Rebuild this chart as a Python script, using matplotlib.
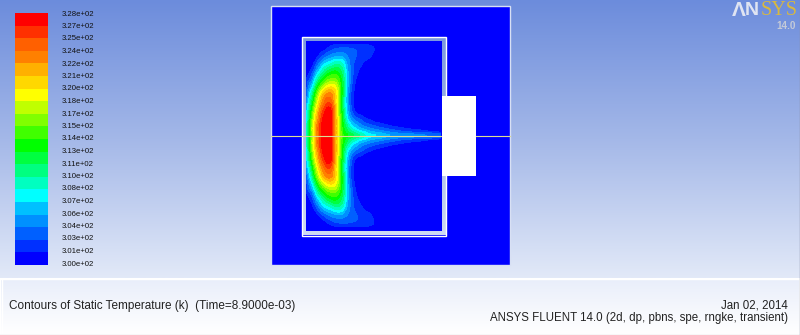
import numpy as np
import matplotlib
matplotlib.use("Agg")
import matplotlib.pyplot as plt
import matplotlib.tri as mtri
from matplotlib.colors import ListedColormap, BoundaryNorm, LinearSegmentedColormap
from matplotlib.patches import PathPatch, Rectangle
from matplotlib.path import Path

plt.rcParams['font.family'] = ['Liberation Sans', 'DejaVu Sans']

# colour-scale tick labels (bottom to top)
tick_labels = ["3.00e+02", "3.01e+02", "3.03e+02", "3.04e+02", "3.06e+02", "3.07e+02", "3.08e+02",
               "3.10e+02", "3.11e+02", "3.13e+02", "3.14e+02", "3.15e+02", "3.17e+02", "3.18e+02",
               "3.20e+02", "3.21e+02", "3.22e+02", "3.24e+02", "3.25e+02", "3.27e+02", "3.28e+02"]
band_colors = ["#0000ff", "#0030ff", "#0060ff", "#0090ff", "#00c0ff", "#00ffff", "#00ffc0", "#00ff80",
               "#00ff40", "#00ff00", "#40ff00", "#80ff00", "#c0ff00", "#ffff00", "#ffd800", "#ffb000",
               "#ff8000", "#ff6000", "#ff3000", "#ff0000"]

# stations (image pixels) and the contour band at each (0-20)
x_stations = [306, 312, 318, 324, 330, 336, 342, 348, 354, 360, 368, 376, 390, 410, 441]
y_stations = [135.5, 131, 127, 119, 111, 103, 95, 87, 79, 71, 63, 55, 47, 41]
bands = [
    [5.0, 12.0, 17.0, 20.0, 20.0, 15.0, 10.5, 9.0, 8.0, 7.0, 5.5, 5.0, 4.0, 3.5, 2.5],
    [5.0, 12.0, 17.0, 20.0, 20.0, 15.0, 10.3, 8.0, 6.5, 5.2, 4.2, 3.5, 2.6, 1.6, 0.5],
    [5.0, 12.0, 17.0, 20.0, 20.0, 15.0, 10.0, 7.0, 5.0, 3.8, 2.8, 2.2, 1.3, 0.6, 0.0],
    [4.5, 11.0, 16.0, 19.5, 20.0, 15.0, 9.5, 5.0, 2.8, 2.0, 1.0, 0.4, 0.0, 0.0, 0.0],
    [4.0, 10.0, 15.0, 18.5, 19.5, 14.5, 9.0, 4.0, 1.2, 0.3, 0.0, 0.0, 0.0, 0.0, 0.0],
    [3.0, 8.5, 13.5, 17.0, 18.0, 14.0, 8.5, 3.5, 0.8, 0.0, 0.0, 0.0, 0.0, 0.0, 0.0],
    [2.0, 7.0, 12.0, 15.5, 16.5, 14.0, 9.0, 3.5, 0.9, 0.0, 0.0, 0.0, 0.0, 0.0, 0.0],
    [1.3, 5.0, 9.5, 12.5, 14.0, 13.0, 9.0, 4.0, 1.1, 0.2, 0.0, 0.0, 0.0, 0.0, 0.0],
    [0.8, 3.0, 7.0, 9.5, 11.0, 11.0, 8.5, 4.2, 1.5, 0.4, 0.0, 0.0, 0.0, 0.0, 0.0],
    [0.2, 1.5, 4.5, 7.0, 8.5, 9.0, 7.5, 4.0, 1.8, 0.8, 0.1, 0.0, 0.0, 0.0, 0.0],
    [0.0, 0.5, 2.5, 4.5, 5.5, 6.5, 6.0, 3.5, 2.0, 1.3, 0.5, 0.0, 0.0, 0.0, 0.0],
    [0.0, 0.0, 0.8, 2.0, 3.0, 3.5, 3.5, 2.8, 2.2, 1.8, 1.4, 0.6, 0.0, 0.0, 0.0],
    [0.0, 0.0, 0.0, 0.3, 1.1, 1.6, 1.8, 1.8, 1.7, 1.6, 1.4, 0.8, 0.0, 0.0, 0.0],
    [0.0, 0.0, 0.0, 0.0, 0.0, 0.0, 0.0, 0.0, 0.0, 0.0, 0.0, 0.0, 0.0, 0.0, 0.0],
]

title_left = "Contours of Static Temperature (k)  (Time=8.9000e-03)"
date_text = "Jan 02, 2014"
solver_text = "ANSYS FLUENT 14.0 (2d, dp, pbns, spe, rngke, transient)"

fig = plt.figure(figsize=(8.0, 3.35), dpi=100)
ax = fig.add_axes([0, 0, 1, 1])
ax.set_xlim(0, 800)
ax.set_ylim(335, 0)
ax.axis("off")

# window background gradients
bg_cmap = LinearSegmentedColormap.from_list("bg", ["#6c8cdc", "#a4b8e8", "#e2e9f8"])
ax.imshow(np.linspace(0, 1, 256)[:, None], extent=(0, 800, 278, 0), cmap=bg_cmap,
          aspect="auto", zorder=0)
panel_cmap = LinearSegmentedColormap.from_list("panel", ["#e9eefa", "#ffffff"])
ax.imshow(np.linspace(0, 1, 64)[:, None], extent=(1, 799, 334, 279), cmap=panel_cmap,
          aspect="auto", zorder=0)
ax.set_xlim(0, 800)
ax.set_ylim(335, 0)
ax.plot([1, 799], [279, 279], color="white", lw=1, zorder=1)
ax.plot([1.5, 1.5], [279, 334], color="white", lw=1, zorder=1)
ax.plot([0, 800], [334.5, 334.5], color="#d8d8d8", lw=1, zorder=1)
ax.plot([799.5, 799.5], [0, 335], color="#8890a8", lw=1, zorder=1)

# domain: blue fill with the wall gap left open
def rect_verts(x0, y0, x1, y1):
    return [(x0, y0), (x1, y0), (x1, y1), (x0, y1), (x0, y0)]
codes = [Path.MOVETO, Path.LINETO, Path.LINETO, Path.LINETO, Path.CLOSEPOLY]
domain = Path(rect_verts(271, 6, 510, 265) + rect_verts(302, 37, 446, 235)[::-1], codes * 2)
ax.add_patch(PathPatch(domain, fc="#0000ff", ec="none", zorder=2))
ax.add_patch(Rectangle((306, 41), 135.5, 190, fc="#0000ff", ec="none", zorder=2))
ax.add_patch(Rectangle((271, 6), 239, 259, fc="none", ec="#d8e0f4", lw=1, zorder=5))
ax.add_patch(Rectangle((301.5, 36.5), 144.5, 199, fc="none", ec="white", lw=1, zorder=5))
ax.add_patch(Rectangle((441.5, 96), 34.5, 80, fc="white", ec="none", zorder=6))

# temperature field: mirror the read half about the centreline
ys = np.array(y_stations)
xs = np.array(x_stations, dtype=float)
half = 300 + 1.4 * np.array(bands)
y_all = np.concatenate([ys, 2 * 135.5 - ys[1:]])
t_all = np.vstack([half, half[1:]])
order = np.argsort(y_all)
y_all, t_all = y_all[order], t_all[order]
X, Y = np.meshgrid(xs, y_all)
tri = mtri.Triangulation(X.ravel(), Y.ravel())
interp = mtri.CubicTriInterpolator(tri, t_all.ravel(), kind="geom")
xf = np.linspace(306, 441, 271)
yf = np.linspace(41, 230, 379)
XF, YF = np.meshgrid(xf, yf)
TF = np.ma.filled(interp(XF, YF), 300.0)
levels = 300 + 1.4 * np.arange(21)
cmap = ListedColormap(band_colors)
norm = BoundaryNorm(levels, cmap.N)
ax.contourf(XF, YF, np.clip(TF, 300, 328), levels=levels, cmap=cmap, norm=norm, zorder=3,
            antialiased=False)

# centreline
ax.plot([271, 441], [135.5, 135.5], color="#dcdc96", lw=0.8, zorder=7)
ax.plot([476, 510], [135.5, 135.5], color="#dcdc96", lw=0.8, zorder=7)

# colour scale
bar_edges = np.linspace(265, 13, 21)
ax.pcolormesh([15, 48], bar_edges, np.arange(20)[:, None], cmap=cmap,
              norm=BoundaryNorm(np.arange(21), cmap.N), zorder=3)
label_y = np.linspace(264, 14, 21)
for y, lab in zip(label_y, tick_labels):
    ax.text(62, y, lab, fontsize=5.6, color="#111111", va="center", ha="left", zorder=8)

# footer
ax.text(9, 305.5, title_left, fontsize=8.45, color="#222222", va="center", ha="left", zorder=8)
ax.text(788, 305, date_text, fontsize=8.3, color="#222222", va="center", ha="right", zorder=8)
ax.text(788, 317.5, solver_text, fontsize=8.3, color="#222222", va="center", ha="right", zorder=8)

# logo
ax.text(732, 10.5, "\u039b", fontsize=15, fontweight="bold", color="#dfe4f2", va="center", ha="left", zorder=8)
ax.text(745, 10.5, "N", fontsize=14, fontweight="bold", color="#dfe4f2", va="center", ha="left", zorder=8)
ax.text(761, 10.5, "SYS", fontsize=14.5, family="Liberation Serif", color="#d8b840", va="center", ha="left", zorder=8)
ax.text(796, 26, "14.0", fontsize=7.2, fontweight="bold", color="#c4cad8", va="center", ha="right", zorder=8)

ax.set_xlim(0, 800)
ax.set_ylim(335, 0)
fig.savefig("out.png", dpi=100)
